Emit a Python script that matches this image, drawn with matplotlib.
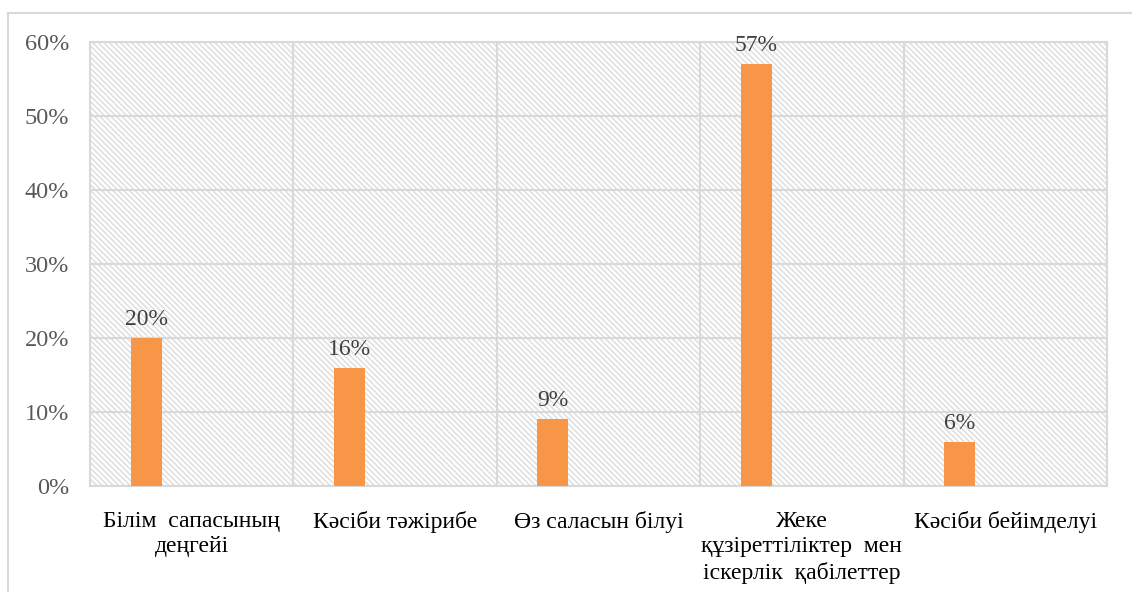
import matplotlib
matplotlib.use("Agg")
import matplotlib.pyplot as plt
from matplotlib.patches import Rectangle
from matplotlib.lines import Line2D
from matplotlib.ticker import FuncFormatter

categories = ["Білім  сапасының\nдеңгейі", "Кәсіби тәжірибе", "Өз саласын білуі",
              "Жеке\nқұзіреттіліктер  мен\nіскерлік  қабілеттер", "Кәсіби бейімделуі"]
values = [20, 16, 9, 57, 6]
labels = ["20%", "16%", "9%", "57%", "6%"]
yticks = [0, 10, 20, 30, 40, 50, 60]

plt.rcParams['font.family'] = ['Liberation Serif', 'DejaVu Serif']
plt.rcParams['hatch.color'] = '#e0e0e0'
plt.rcParams['hatch.linewidth'] = 1.2

W, H = 1132, 592
fig = plt.figure(figsize=(W / 100, H / 100), dpi=100)
ax = fig.add_axes([90 / W, 1 - 486 / H, (1107 - 90) / W, (486 - 42) / H])

grid_c = '#d9d9d9'
# hatched background
bg = Rectangle((0, 0), 1, 1, transform=ax.transAxes, facecolor='white',
               edgecolor='#e0e0e0', hatch='\\' * 6, lw=0, zorder=0)
ax.add_patch(bg)

x = list(range(len(categories)))
off = -0.224
bw = 0.152
ax.bar([i + off for i in x], values, width=bw, color='#F79646', zorder=3)
for i, v, l in zip(x, values, labels):
    ax.text(i + off, v + 2.5, l, ha='center', va='center', fontsize=17,
            color='#404040', zorder=4)

ax.set_xlim(-0.5, len(categories) - 0.5)
ax.set_ylim(0, 60)
ax.set_yticks(yticks)
ax.yaxis.set_major_formatter(FuncFormatter(lambda v, p: f"{int(v)}%"))
ax.set_xticks(x)
ax.set_xticklabels(categories, fontsize=17, color='black', linespacing=1.28)
ax.tick_params(axis='y', length=0, pad=15, labelsize=17.5, labelcolor='#595959')
ax.tick_params(axis='x', length=0, pad=18)

for y in yticks:
    ax.axhline(y, color=grid_c, lw=1.5, zorder=1)
for b in [0.5, 1.5, 2.5, 3.5]:
    ax.axvline(b, color=grid_c, lw=1.5, zorder=1)
for s in ax.spines.values():
    s.set_color(grid_c)
    s.set_linewidth(1.5)

# outer border
fig.add_artist(Line2D([8 / W, 1.0], [1 - 13 / H, 1 - 13 / H], color=grid_c, lw=1.5))
fig.add_artist(Line2D([8 / W, 8 / W], [0, 1 - 13 / H], color=grid_c, lw=1.5))

fig.savefig("out.png", dpi=100, facecolor='white')
